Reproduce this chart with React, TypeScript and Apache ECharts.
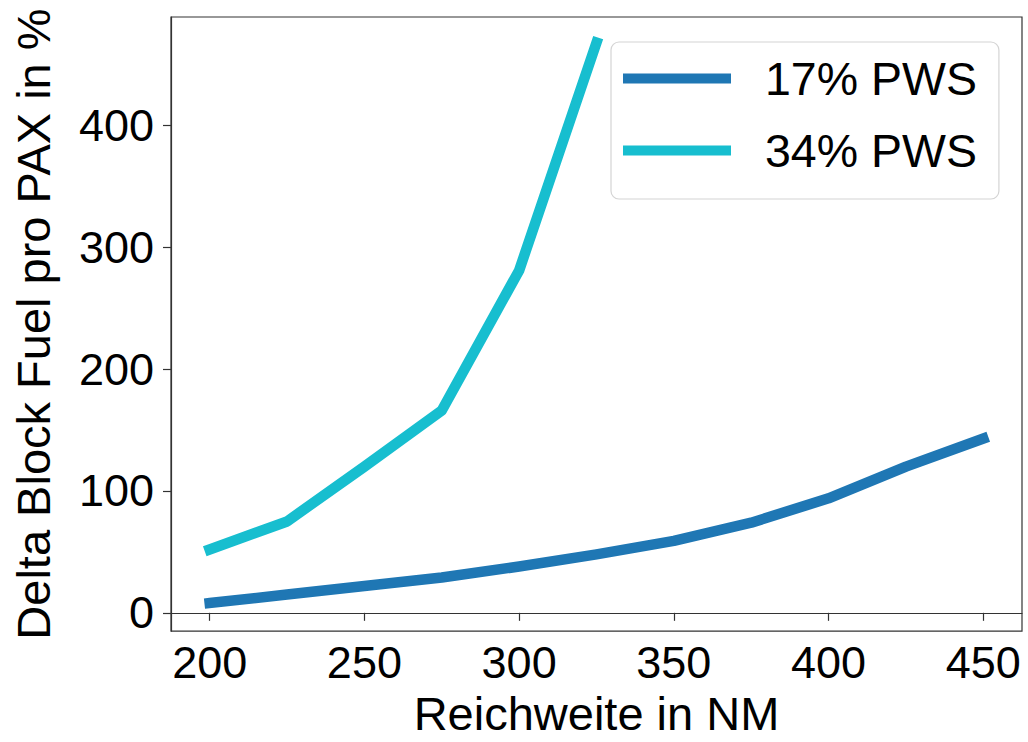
import React, { useEffect, useRef } from "react";
import * as echarts from "echarts";

const ranges17 = [200, 225, 250, 275, 300, 325, 350, 375, 400, 425, 450];
const pws17 = [8, 15, 22, 29, 38, 48, 59, 74, 94, 120, 143];
const ranges34 = [200, 225, 250, 275, 300, 325];
const pws34 = [52, 75, 120, 166, 281, 468];
const xTicks = [200, 250, 300, 350, 400, 450];
const yTicks = [0, 100, 200, 300, 400];
const seriesNames = ["17% PWS", "34% PWS"];
const xLabel = "Reichweite in NM";
const yLabel = "Delta Block Fuel pro PAX in %";

const FONT = "'Liberation Sans', Arial, sans-serif";

export default function App() {
  const ref = useRef<HTMLDivElement>(null);
  useEffect(() => {
    if (!ref.current) return;
    const chart = echarts.init(ref.current, null, { renderer: "svg" });
    const axisLine = { show: true, lineStyle: { color: "#333", width: 1.2 } };
    const tickStyle = { show: true, length: 8, lineStyle: { color: "#333", width: 1.2 } };
    chart.setOption({
      animation: false,
      backgroundColor: "#fff",
      textStyle: { fontFamily: FONT },
      grid: {
        left: 171,
        right: 6,
        top: 17,
        bottom: 104,
        show: true,
        borderColor: "#333",
        borderWidth: 1.2,
        backgroundColor: "transparent",
      },
      legend: {
        left: 611,
        top: 42,
        orient: "vertical",
        icon: "rect",
        itemWidth: 108,
        itemHeight: 10,
        itemGap: 25,
        padding: [13, 22, 25, 12],
        borderColor: "#d4d4d4",
        borderWidth: 1.2,
        borderRadius: 8,
        backgroundColor: "rgba(255,255,255,0.8)",
        textStyle: {
          fontFamily: FONT,
          fontSize: 46.5,
          color: "#000",
          lineHeight: 44,
          padding: [0, 0, 0, 29],
        },
        data: seriesNames,
      },
      xAxis: {
        type: "value",
        min: 187.5,
        max: 462.5,
        axisLine,
        splitLine: { show: false },
        axisTick: { ...tickStyle, customValues: xTicks },
        axisLabel: {
          customValues: xTicks,
          fontSize: 45,
          fontFamily: FONT,
          color: "#000",
          margin: 9,
          lineHeight: 45,
        },
        name: xLabel,
        nameLocation: "middle",
        nameGap: 58,
        nameTextStyle: { fontSize: 47, fontFamily: FONT, color: "#000", lineHeight: 47 },
      },
      yAxis: {
        type: "value",
        min: -15,
        max: 489,
        axisLine,
        splitLine: { show: false },
        axisTick: { ...tickStyle, customValues: yTicks },
        axisLabel: {
          customValues: yTicks,
          fontSize: 45,
          fontFamily: FONT,
          color: "#000",
          margin: 17,
        },
        name: yLabel,
        nameLocation: "middle",
        nameGap: 114,
        nameRotate: 90,
        nameTextStyle: { fontSize: 47, fontFamily: FONT, color: "#000", lineHeight: 47 },
      },
      series: [
        {
          name: seriesNames[0],
          type: "line",
          data: ranges17.map((x, i) => [x, pws17[i]]),
          symbol: "none",
          itemStyle: { color: "#1f77b4" },
          lineStyle: { color: "#1f77b4", width: 10.5, cap: "square", join: "round" },
        },
        {
          name: seriesNames[1],
          type: "line",
          data: ranges34.map((x, i) => [x, pws34[i]]),
          symbol: "none",
          itemStyle: { color: "#17becf" },
          lineStyle: { color: "#17becf", width: 10.5, cap: "square", join: "round" },
        },
      ],
    });
    return () => chart.dispose();
  }, []);
  return (
    <div
      ref={ref}
      style={{ position: "fixed", left: 0, top: 0, width: 1028, height: 742, background: "#fff" }}
    />
  );
}
